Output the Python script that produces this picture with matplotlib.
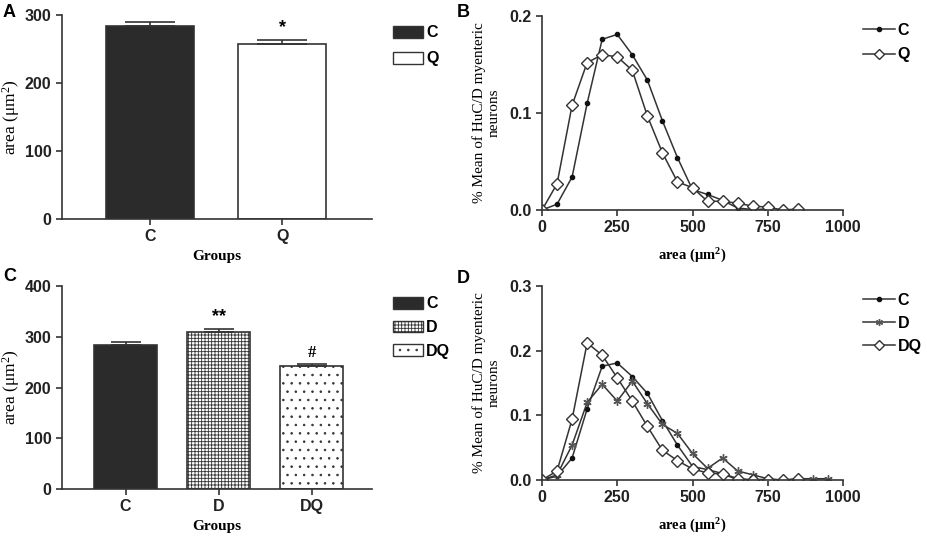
import numpy as np
import matplotlib
matplotlib.use("Agg")
import matplotlib.pyplot as plt
from matplotlib.patches import Patch
from matplotlib.lines import Line2D

# panel A
grupos_a = ["C", "Q"]
area_a = [284, 257]
err_a = [5, 6]
# panel C
grupos_c = ["C", "D", "DQ"]
area_c = [283, 310, 242]
err_c = [6, 6, 5]

# panels B/D: distribution of areas
x_b = [0, 50, 100, 150, 200, 250, 300, 350, 400, 450, 500, 550, 600, 650, 700, 750]
c_dist = [0, 0.006, 0.034, 0.11, 0.176, 0.181, 0.16, 0.134, 0.092, 0.054, 0.021, 0.016, 0.01, 0.002, 0.0005, 0.001]
x_q = [0, 50, 100, 150, 200, 250, 300, 350, 400, 450, 500, 550, 600, 650, 700, 750, 800, 850]
q_dist = [0, 0.027, 0.108, 0.152, 0.16, 0.158, 0.144, 0.097, 0.059, 0.029, 0.023, 0.009, 0.009, 0.007, 0.004, 0.003, 0, 0.001]
x_d = [0, 50, 100, 150, 200, 250, 300, 350, 400, 450, 500, 550, 600, 650, 700, 750, 800, 850, 900, 950]
d_dist = [0, 0.008, 0.054, 0.12, 0.148, 0.122, 0.153, 0.118, 0.086, 0.072, 0.041, 0.018, 0.034, 0.014, 0.008, 0.002, 0, 0.002, 0.002, 0.002]
x_dq = [0, 50, 100, 150, 200, 250, 300, 350, 400, 450, 500, 550, 600, 650, 700, 750, 800, 850]
dq_dist = [0, 0.014, 0.094, 0.212, 0.193, 0.158, 0.122, 0.083, 0.046, 0.03, 0.017, 0.011, 0.009, 0.001, 0, 0, 0, 0.001]

cinza = "#333333"
plt.rcParams['hatch.linewidth'] = 0.6
plt.rcParams['hatch.color'] = cinza
sans = ["Liberation Sans", "DejaVu Sans"]
serif = ["Liberation Serif", "DejaVu Serif"]

W, H = 927, 538
fig = plt.figure(figsize=(W / 100, H / 100), dpi=100)

def eixo(x0, y0, x1, y1):
    return fig.add_axes([x0 / W, 1 - y1 / H, (x1 - x0) / W, (y1 - y0) / H])

def estilo(ax):
    ax.spines['top'].set_visible(False)
    ax.spines['right'].set_visible(False)
    for s in ('left', 'bottom'):
        ax.spines[s].set_color(cinza)
        ax.spines[s].set_linewidth(1.2)
    ax.tick_params(direction='out', length=4, width=1.2, color=cinza, labelsize=11.5)
    for lb in ax.get_xticklabels() + ax.get_yticklabels():
        lb.set_family(sans)
        lb.set_fontweight('bold')
        lb.set_color('#222222')

area_label = r"area ($\mathregular{\mu m^2}$)"

# ---- A
axA = eixo(62, 15, 372, 219)
axA.bar(range(2), area_a, width=0.67, color=["#2b2b2b", "white"], edgecolor=cinza, linewidth=1.2,
        yerr=[[0, 0], err_a], error_kw=dict(ecolor=cinza, elinewidth=1.2, capsize=18, capthick=1.2))
axA.set_xlim(-0.667, 1.68)
axA.set_ylim(0, 300)
axA.set_yticks([0, 100, 200, 300])
axA.set_xticks(range(2))
axA.set_xticklabels(grupos_a)
estilo(axA)
axA.set_xlabel("Groups", family=serif, fontweight='bold', fontsize=11, labelpad=4)
axA.set_ylabel(area_label, family=serif, fontsize=12.5, labelpad=2)
axA.text(1, area_a[1] + err_a[1] + 6, "*", ha='center', va='bottom', fontsize=13, fontweight='bold', family=sans)
axA.legend(handles=[Patch(facecolor="#2b2b2b", edgecolor=cinza, label="C"),
                    Patch(facecolor="white", edgecolor=cinza, label="Q")],
           loc='upper left', bbox_to_anchor=(1.02, 1.02), frameon=False,
           prop=dict(family=sans, weight='bold', size=11.5), handlelength=1.9, handleheight=0.75,
           labelspacing=0.7, handletextpad=0.2)

# ---- C
axC = eixo(62, 286, 372, 489)
cores_c = ["#2b2b2b", "white", "white"]
hatches_c = [None, "+++++", ".."]
barras = axC.bar(range(3), area_c, width=0.68, color=cores_c, edgecolor=cinza, linewidth=1.2,
                 yerr=[[0, 0, 0], err_c], error_kw=dict(ecolor=cinza, elinewidth=1.2, capsize=11, capthick=1.2))
for b, h in zip(barras, hatches_c):
    if h:
        b.set_hatch(h)
axC.set_xlim(-0.683, 2.65)
axC.set_ylim(0, 400)
axC.set_yticks([0, 100, 200, 300, 400])
axC.set_xticks(range(3))
axC.set_xticklabels(grupos_c)
estilo(axC)
axC.set_xlabel("Groups", family=serif, fontweight='bold', fontsize=11, labelpad=4)
axC.set_ylabel(area_label, family=serif, fontsize=12.5, labelpad=2)
axC.text(1, area_c[1] + err_c[1] + 6, "**", ha='center', va='bottom', fontsize=13, fontweight='bold', family=sans)
axC.text(2, area_c[2] + err_c[2] + 6, "#", ha='center', va='bottom', fontsize=12, fontweight='bold', family=serif)
axC.legend(handles=[Patch(facecolor="#2b2b2b", edgecolor=cinza, label="C"),
                    Patch(facecolor="white", edgecolor=cinza, hatch="+++++", label="D"),
                    Patch(facecolor="white", edgecolor=cinza, hatch="..", label="DQ")],
           loc='upper left', bbox_to_anchor=(1.02, 1.02), frameon=False,
           prop=dict(family=sans, weight='bold', size=11.5), handlelength=1.9, handleheight=0.75,
           labelspacing=0.55, handletextpad=0.2)

ylabel_bd = "% Mean of HuC/D myenteric\nneurons"

def linha(ax, x, y, tipo):
    if tipo == 'dot':
        ax.plot(x, y, color=cinza, lw=1.1, marker='o', ms=3, mfc='#111111', mec='#111111')
    elif tipo == 'diamond':
        ax.plot(x, y, color=cinza, lw=1.1, marker='D', ms=6.5, mfc='white', mec=cinza, mew=1.0)
    else:
        ax.plot(x, y, color=cinza, lw=1.1, marker=(6, 2, 0), ms=6, mec='#555555', mew=1.0)

def leg(tipo, nome):
    if tipo == 'dot':
        return Line2D([], [], color=cinza, lw=1.1, marker='o', ms=3, mfc='#111111', mec='#111111', label=nome)
    if tipo == 'diamond':
        return Line2D([], [], color=cinza, lw=1.1, marker='D', ms=5, mfc='white', mec=cinza, label=nome)
    return Line2D([], [], color=cinza, lw=1.1, marker=(6, 2, 0), ms=5, mec='#555555', label=nome)

# ---- B
axB = eixo(542, 16, 843, 210)
linha(axB, x_b, c_dist, 'dot')
linha(axB, x_q, q_dist, 'diamond')
axB.set_xlim(0, 1000)
axB.set_ylim(0, 0.2)
axB.set_xticks([0, 250, 500, 750, 1000])
axB.set_yticks([0, 0.1, 0.2])
axB.set_yticklabels(["0.0", "0.1", "0.2"])
estilo(axB)
axB.set_xlabel(area_label, family=serif, fontweight='bold', fontsize=10.5, labelpad=8)
axB.set_ylabel(ylabel_bd, family=serif, fontsize=11, labelpad=6)
axB.legend(handles=[leg('dot', "C"), leg('diamond', "Q")], loc='upper left',
           bbox_to_anchor=(1.02, 1.04), frameon=False, prop=dict(family=sans, weight='bold', size=11.5),
           handlelength=2.0, handletextpad=0.15, labelspacing=0.6)

# ---- D
axD = eixo(542, 286, 843, 480)
linha(axD, x_b, c_dist, 'dot')
linha(axD, x_d, d_dist, 'star')
linha(axD, x_dq, dq_dist, 'diamond')
axD.set_xlim(0, 1000)
axD.set_ylim(0, 0.3)
axD.set_xticks([0, 250, 500, 750, 1000])
axD.set_yticks([0, 0.1, 0.2, 0.3])
axD.set_yticklabels(["0.0", "0.1", "0.2", "0.3"])
estilo(axD)
axD.set_xlabel(area_label, family=serif, fontweight='bold', fontsize=10.5, labelpad=8)
axD.set_ylabel(ylabel_bd, family=serif, fontsize=11, labelpad=6)
axD.legend(handles=[leg('dot', "C"), leg('star', "D"), leg('diamond', "DQ")], loc='upper left',
           bbox_to_anchor=(1.02, 1.04), frameon=False, prop=dict(family=sans, weight='bold', size=11.5),
           handlelength=2.0, handletextpad=0.15, labelspacing=0.5)

# panel letters
for letra, px, py in [("A", 3, 4), ("B", 457, 4), ("C", 3, 268), ("D", 457, 270)]:
    fig.text(px / W, 1 - py / H, letra, ha='left', va='top', fontsize=13, fontweight='bold', family=sans)

fig.savefig("out.png", dpi=100)
